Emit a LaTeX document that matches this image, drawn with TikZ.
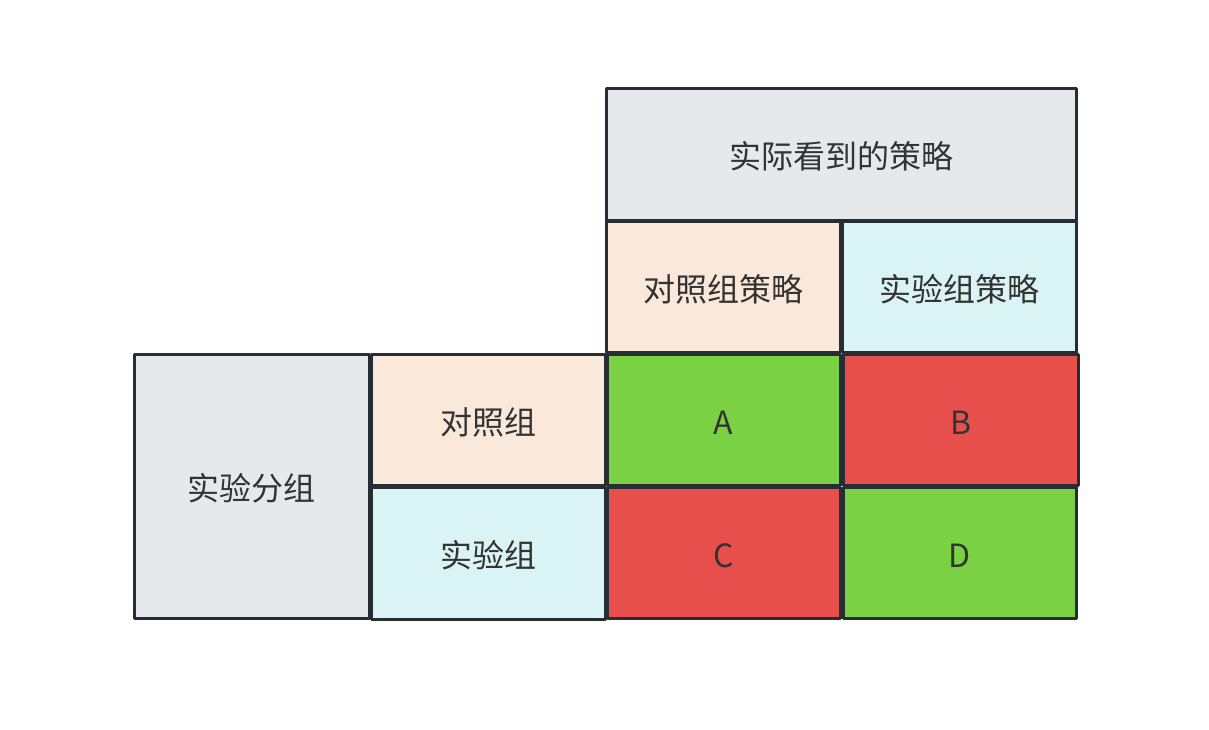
\documentclass[tikz,border=0pt]{standalone}
\usepackage{fontspec}
\setmainfont{Noto Sans CJK SC}
\definecolor{bordc}{HTML}{262D35}
\definecolor{grayf}{HTML}{E6E9EC}
\definecolor{peachf}{HTML}{FAE9DB}
\definecolor{cyanf}{HTML}{DAF3F4}
\definecolor{greenf}{HTML}{7BD144}
\definecolor{redf}{HTML}{E74F4C}
\definecolor{txt}{HTML}{333333}
\begin{document}
\begin{tikzpicture}[x=0.75pt,y=-0.75pt,
  cell/.style={draw=bordc,line width=2.25pt,rectangle,inner sep=0pt,
    text height=24pt,text depth=2pt,
    text=txt,font=\fontsize{24}{28}\selectfont,line join=round},
  ]
\useasboundingbox (0,0) rectangle (1209,729);
\fill[white] (0,0) rectangle (1209,729);
\newcommand{\cellat}[7]{% name, x1,y1,x2,y2, fill, text
  \node[cell,fill=#6,minimum width={(#4-#2)*0.75pt},minimum height={(#5-#3)*0.75pt}] (#1) at ({(#2+#4)/2},{(#3+#5)/2}) {#7};}
\cellat{top}{606}{88}{1076}{220}{grayf}{实际看到的策略}
\cellat{ctrlpol}{606}{221}{840}{352}{peachf}{对照组策略}
\cellat{exppol}{842}{221}{1076}{352}{cyanf}{实验组策略}
\cellat{grp}{134}{354}{369}{618}{grayf}{实验分组}
\cellat{ctrl}{371}{354}{605}{485}{peachf}{对照组}
\cellat{exp}{371}{487}{605}{619}{cyanf}{实验组}
\cellat{A}{607}{354}{840}{485}{greenf}{A}
\cellat{B}{843}{354}{1078}{485}{redf}{B}
\cellat{C}{607}{487}{840}{618}{redf}{C}
\cellat{D}{843}{487}{1076}{618}{greenf}{D}
\end{tikzpicture}
\end{document}
